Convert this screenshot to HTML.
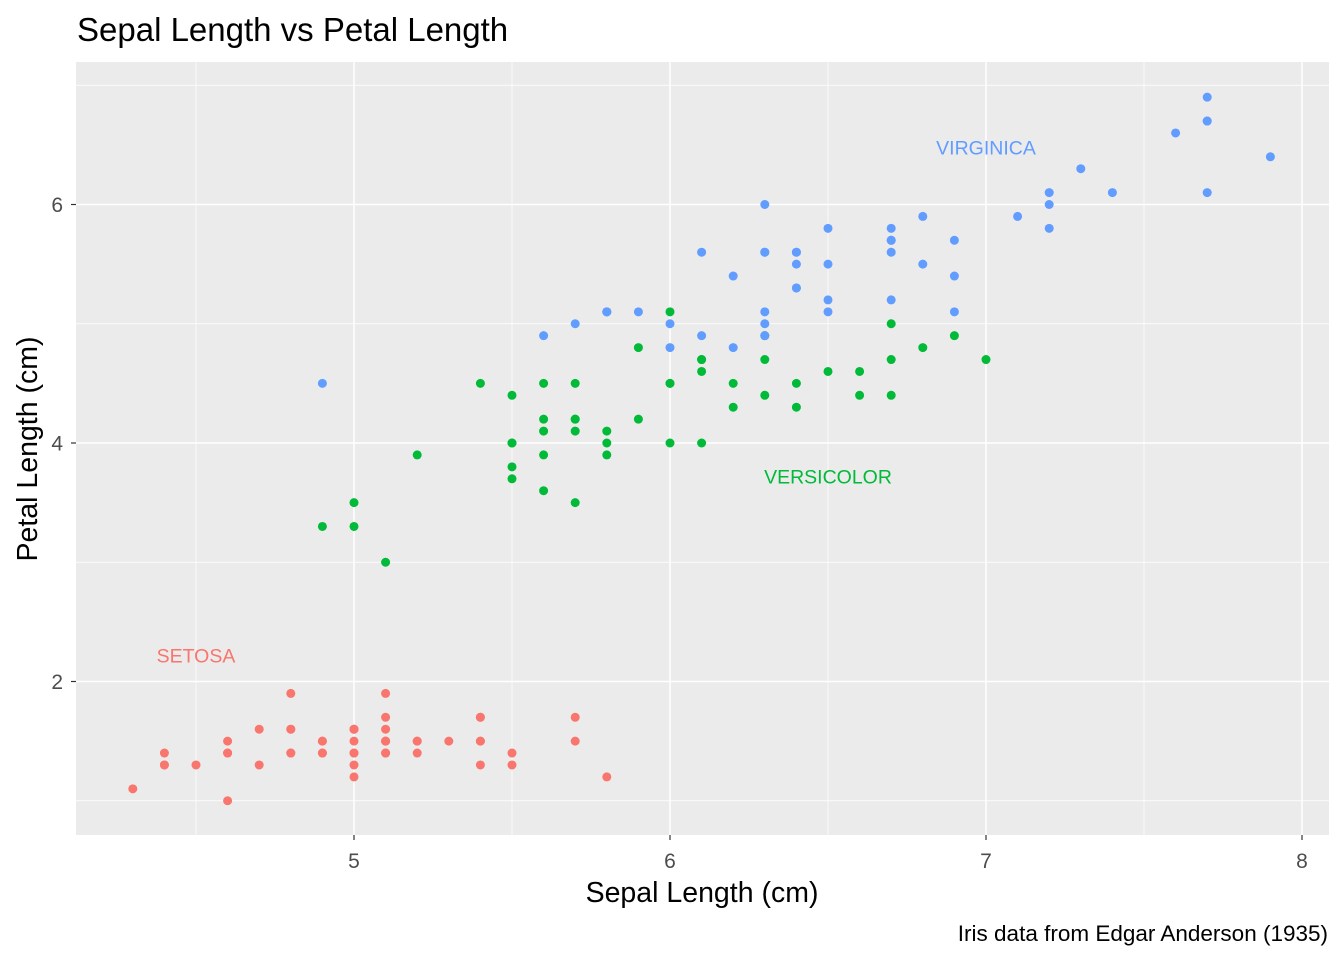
<!DOCTYPE html>
<html><head><meta charset="utf-8"><style>
html,body{margin:0;padding:0;background:#fff;}
svg text{font-family:"Liberation Sans",Arial,sans-serif;}
</style></head><body>
<svg id="chart" width="1344" height="960" xmlns="http://www.w3.org/2000/svg">
<rect x="0" y="0" width="1344" height="960" fill="#fff"/>
<text x="77" y="41" font-size="33" fill="#000">Sepal Length vs Petal Length</text>
<rect x="76" y="62" width="1253" height="773" fill="#EBEBEB"/>
<g id="grid"></g>
<g id="points"></g>
<g id="labels"></g>
<g id="axes"></g>
<text x="702" y="902" font-size="28.5" text-anchor="middle" fill="#000">Sepal Length (cm)</text>
<text transform="translate(37,449) rotate(-90)" font-size="28.5" text-anchor="middle" fill="#000">Petal Length (cm)</text>
<text x="1328" y="941" font-size="22.5" text-anchor="end" fill="#000">Iris data from Edgar Anderson (1935)</text>
</svg>
<script>
const species = ["setosa","versicolor","virginica"];
const speciesLabels = ["SETOSA","VERSICOLOR","VIRGINICA"];
const labelX = [4.5, 6.5, 7.0];
const labelY = [2.22, 3.72, 6.48];
const setosaSepal = [5.1,4.9,4.7,4.6,5.0,5.4,4.6,5.0,4.4,4.9,5.4,4.8,4.8,4.3,5.8,5.7,5.4,5.1,5.7,5.1,5.4,5.1,4.6,5.1,4.8,5.0,5.0,5.2,5.2,4.7,4.8,5.4,5.2,5.5,4.9,5.0,5.5,4.9,4.4,5.1,5.0,4.5,4.4,5.0,5.1,4.8,5.1,4.6,5.3,5.0];
const setosaPetal = [1.4,1.4,1.3,1.5,1.4,1.7,1.4,1.5,1.4,1.5,1.5,1.6,1.4,1.1,1.2,1.5,1.3,1.4,1.7,1.5,1.7,1.5,1.0,1.7,1.9,1.6,1.6,1.5,1.4,1.6,1.6,1.5,1.5,1.4,1.5,1.2,1.3,1.4,1.3,1.5,1.3,1.3,1.3,1.6,1.9,1.4,1.6,1.4,1.5,1.4];
const versicolorSepal = [7.0,6.4,6.9,5.5,6.5,5.7,6.3,4.9,6.6,5.2,5.0,5.9,6.0,6.1,5.6,6.7,5.6,5.8,6.2,5.6,5.9,6.1,6.3,6.1,6.4,6.6,6.8,6.7,6.0,5.7,5.5,5.5,5.8,6.0,5.4,6.0,6.7,6.3,5.6,5.5,5.5,6.1,5.8,5.0,5.6,5.7,5.7,6.2,5.1,5.7];
const versicolorPetal = [4.7,4.5,4.9,4.0,4.6,4.5,4.7,3.3,4.6,3.9,3.5,4.2,4.0,4.7,3.6,4.4,4.5,4.1,4.5,3.9,4.8,4.0,4.9,4.7,4.3,4.4,4.8,5.0,4.5,3.5,3.8,3.7,3.9,5.1,4.5,4.5,4.7,4.4,4.1,4.0,4.4,4.6,4.0,3.3,4.2,4.2,4.2,4.3,3.0,4.1];
const virginicaSepal = [6.3,5.8,7.1,6.3,6.5,7.6,4.9,7.3,6.7,7.2,6.5,6.4,6.8,5.7,5.8,6.4,6.5,7.7,7.7,6.0,6.9,5.6,7.7,6.3,6.7,7.2,6.2,6.1,6.4,7.2,7.4,7.9,6.4,6.3,6.1,7.7,6.3,6.4,6.0,6.9,6.7,6.9,5.8,6.8,6.7,6.7,6.3,6.5,6.2,5.9];
const virginicaPetal = [6.0,5.1,5.9,5.6,5.8,6.6,4.5,6.3,5.8,6.1,5.1,5.3,5.5,5.0,5.1,5.3,5.5,6.7,6.9,5.0,5.7,4.9,6.7,4.9,5.7,6.0,4.8,4.9,5.6,5.8,6.1,6.4,5.6,5.1,5.6,6.1,5.6,5.5,4.8,5.4,5.6,5.1,5.1,5.9,5.7,5.2,5.0,5.2,5.4,5.1];
const xTicks = [5,6,7,8];
const xMinor = [4.5,5.5,6.5,7.5];
const yTicks = [2,4,6];
const yMinor = [1,3,5,7];

const colors = ["#F8766D","#00BA38","#619CFF"];
const P = {l:76,t:62,r:1329,b:835};
const xs = v => 354 + (v-5)*316;
const ys = v => 443 - (v-4)*119.25;
const NS = "http://www.w3.org/2000/svg";
function mk(tag, attrs, parent){const e=document.createElementNS(NS,tag);for(const k in attrs)e.setAttribute(k,attrs[k]);parent.appendChild(e);return e;}
const grid=document.getElementById('grid'), pts=document.getElementById('points'), labs=document.getElementById('labels'), axes=document.getElementById('axes');
xMinor.forEach(v=>{const l=mk('line',{x1:xs(v),x2:xs(v),y1:P.t,y2:P.b,stroke:'#fff','stroke-width':0.7},grid);

});
yMinor.forEach(v=>{const l=mk('line',{x1:P.l,x2:P.r,y1:ys(v),y2:ys(v),stroke:'#fff','stroke-width':0.7},grid);

});
xTicks.forEach(v=>{const l=mk('line',{x1:xs(v),x2:xs(v),y1:P.t,y2:P.b,stroke:'#fff','stroke-width':1.5},grid);


const t=mk('line',{x1:xs(v),x2:xs(v),y1:P.b,y2:P.b+5,stroke:'#333','stroke-width':1.2},axes);


const tx=mk('text',{x:xs(v),y:P.b+33,'font-size':21,'text-anchor':'middle',fill:'#4D4D4D'},axes);tx.textContent=v;

});
yTicks.forEach(v=>{const l=mk('line',{x1:P.l,x2:P.r,y1:ys(v),y2:ys(v),stroke:'#fff','stroke-width':1.5},grid);


const t=mk('line',{x1:P.l-5,x2:P.l,y1:ys(v),y2:ys(v),stroke:'#333','stroke-width':1.2},axes);


const tx=mk('text',{x:P.l-13,y:ys(v)+7.5,'font-size':21,'text-anchor':'end',fill:'#4D4D4D'},axes);tx.textContent=v;

});
const series=[[setosaSepal,setosaPetal],[versicolorSepal,versicolorPetal],[virginicaSepal,virginicaPetal]];
series.forEach((s,i)=>{s[0].forEach((x,j)=>{const c=mk('circle',{cx:xs(x),cy:ys(s[1][j]),r:4.5,fill:colors[i]},pts);

});
const t=mk('text',{x:xs(labelX[i]),y:ys(labelY[i])+7,'font-size':19.5,'text-anchor':'middle',fill:colors[i]},labs);t.textContent=speciesLabels[i];

});
</script>
</body></html>
